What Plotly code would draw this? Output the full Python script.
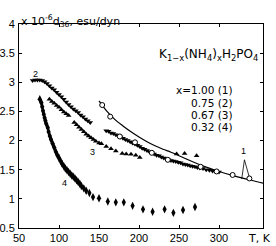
import plotly.graph_objects as go

# Series 1 (x=1.00): open circles
s1_T = [154, 164, 176, 195, 216, 236, 277, 297, 317, 338]
s1_d = [2.61, 2.41, 2.07, 1.97, 1.79, 1.67, 1.55, 1.47, 1.41, 1.35]

# Series 1 curve (solid line)
c1_T = [150, 160, 170, 180, 190, 200, 210, 220, 230, 240, 255, 270, 285, 300, 320, 340, 355]
c1_d = [2.68, 2.50, 2.36, 2.25, 2.15, 2.06, 1.98, 1.91, 1.85, 1.80, 1.71, 1.62, 1.54, 1.47, 1.39, 1.32, 1.27]

# Series 2 (x=0.75)
s2_T = [67, 70, 73, 76, 79, 82, 85, 88, 91, 94, 97, 100, 103, 106, 109, 112, 115, 118, 121, 124,
        127, 130, 133, 136, 139,
        159, 162, 165, 168, 171, 174, 177, 180, 183, 186, 189, 192, 195, 198, 201, 204, 207, 210,
        213, 216, 219, 222, 225, 228, 231, 234, 237, 240, 243, 246, 249, 252, 255, 258, 261, 264,
        267, 270, 273, 276, 280, 284, 288, 292, 296, 300]
s2_d = [3.03, 3.04, 3.04, 3.04, 3.03, 3.01, 2.98, 2.94, 2.90, 2.87, 2.83, 2.79, 2.75, 2.71, 2.66,
        2.62, 2.58, 2.54, 2.51, 2.48, 2.44, 2.41, 2.37, 2.34, 2.31,
        2.17, 2.16, 2.13, 2.12, 2.10, 2.08, 2.06, 2.04, 2.02, 2.00, 1.98, 1.96, 1.94, 1.92, 1.90,
        1.87, 1.85, 1.83, 1.81, 1.79, 1.77, 1.75, 1.74, 1.72, 1.70, 1.69, 1.67, 1.66, 1.65, 1.64,
        1.63, 1.62, 1.60, 1.59, 1.58, 1.57, 1.56, 1.55, 1.54, 1.53, 1.52, 1.50, 1.49, 1.48, 1.47, 1.46]

# Series 3 (x=0.67)
s3_T = [88, 91, 94, 97, 100, 103, 106, 109, 112, 119, 122, 125, 128, 131, 134, 137, 140, 143, 146,
        150, 153, 159, 165, 171, 179, 184, 190, 196, 201, 247, 257, 272]
s3_d = [2.71, 2.67, 2.64, 2.60, 2.57, 2.53, 2.49, 2.46, 2.43, 2.31, 2.27, 2.23, 2.19, 2.15, 2.11,
        2.08, 2.05, 2.02, 1.99, 1.96, 1.945, 1.90, 1.86, 1.82, 1.78, 1.77, 1.765, 1.75, 1.71,
        1.77, 1.78, 1.74]

# Series 4 (x=0.32)
s4_T = [76, 78, 79, 80, 81, 82, 83, 84, 86, 87, 88.5, 90, 92, 94, 96, 98, 100, 102, 104, 106, 108,
        110, 112, 114, 116, 118, 120, 122, 124, 126, 128, 131, 134, 138, 142.5, 150, 161, 171, 181,
        192, 205, 217, 232, 243, 255, 270]
s4_d = [2.71, 2.65, 2.58, 2.51, 2.45, 2.39, 2.34, 2.29, 2.22, 2.15, 2.08, 2.02, 1.95, 1.88, 1.81,
        1.75, 1.70, 1.65, 1.60, 1.56, 1.52, 1.49, 1.46, 1.43, 1.40, 1.38, 1.35, 1.32, 1.29, 1.26,
        1.22, 1.18, 1.14, 1.10, 1.03, 1.01, 0.955, 0.94, 0.94, 0.88, 0.82, 0.78, 0.82, 0.76, 0.81, 0.86]

# Leader line for label "1"
lead_T = [328.4, 331.8, 338]
lead_d = [1.34, 1.67, 1.365]

x_ticks = [50, 100, 150, 200, 250, 300]
y_ticks = [0.5, 1, 1.5, 2, 2.5, 3, 3.5, 4]
y_ticklabels = ["0.5", "1", "1.5", "2", "2.5", "3", "3.5", "4"]

legend_lines = ["x=1.00 (1)", "0.75 (2)", "0.67 (3)", "0.32 (4)"]
legend_y = [2.86, 2.65, 2.44, 2.23]
formula = "K<sub>1\u2212x</sub>(NH<sub>4</sub>)<sub>x</sub>H<sub>2</sub>PO<sub>4</sub>"

TICKFONT = "Liberation Sans, Arial, sans-serif"
TXTFONT = "DejaVu Sans, sans-serif"

fig = go.Figure()
fig.add_trace(go.Scatter(x=c1_T, y=c1_d, mode="lines", line=dict(color="black", width=1.2, shape="spline"),
                         hoverinfo="skip"))
fig.add_trace(go.Scatter(x=lead_T, y=lead_d, mode="lines", line=dict(color="black", width=0.8),
                         hoverinfo="skip"))
fig.add_trace(go.Scatter(x=s2_T, y=s2_d, mode="markers",
                         marker=dict(symbol="triangle-down", size=5, color="black")))
fig.add_trace(go.Scatter(x=s3_T, y=s3_d, mode="markers",
                         marker=dict(symbol="triangle-up", size=5, color="black")))
fig.add_trace(go.Scatter(x=s4_T, y=s4_d, mode="markers",
                         marker=dict(symbol="diamond-tall", size=6, color="black")))
fig.add_trace(go.Scatter(x=s1_T, y=s1_d, mode="markers",
                         marker=dict(symbol="circle", size=5, color="white",
                                     line=dict(color="black", width=1))))

axis_common = dict(showline=True, linecolor="black", linewidth=1, mirror="ticks",
                   ticks="inside", ticklen=3, tickcolor="black", showgrid=False, zeroline=False,
                   tickfont=dict(family=TICKFONT, size=11, color="black"), automargin=False)

fig.update_xaxes(range=[50, 355], tickvals=x_ticks, ticktext=[str(v) for v in x_ticks], **axis_common)
fig.update_yaxes(range=[0.5, 4], tickvals=y_ticks, ticktext=y_ticklabels, ticklabelstandoff=1, **axis_common)

annotations = [
    dict(xref="paper", yref="paper", x=0, y=1, xanchor="left", yanchor="bottom", yshift=-7,
         text="x 10<sup>-6</sup>d<sub>36</sub>, esu/dyn", showarrow=False,
         font=dict(family=TXTFONT, size=11, color="black")),
    dict(xref="paper", yref="paper", x=0.984, y=0, xanchor="center", yanchor="top", yshift=-2,
         text="T, K", showarrow=False, font=dict(family=TXTFONT, size=11, color="black")),
    dict(x=222, y=3.47, xref="x", yref="y", xanchor="left", yanchor="middle", text=formula,
         showarrow=False, font=dict(family=TXTFONT, size=12, color="black")),
    dict(x=71, y=3.15, xref="x", yref="y", text="2", showarrow=False,
         font=dict(family=TICKFONT, size=9, color="black")),
    dict(x=142, y=1.80, xref="x", yref="y", text="3", showarrow=False,
         font=dict(family=TICKFONT, size=9, color="black")),
    dict(x=107, y=1.27, xref="x", yref="y", text="4", showarrow=False,
         font=dict(family=TICKFONT, size=9, color="black")),
    dict(x=331, y=1.82, xref="x", yref="y", text="1", showarrow=False,
         font=dict(family=TICKFONT, size=9, color="black")),
]
for txt, yy in zip(legend_lines, legend_y):
    annotations.append(dict(x=320, y=yy, xref="x", yref="y", xanchor="right", yanchor="middle",
                            text=txt, showarrow=False, font=dict(family=TXTFONT, size=10.5, color="black")))

fig.update_layout(width=276, height=246, margin=dict(l=19, r=13, t=24, b=18),
                  paper_bgcolor="white", plot_bgcolor="white", showlegend=False,
                  annotations=annotations, font=dict(family=TICKFONT, color="black"))

fig.write_html("out.html", config={"displayModeBar": False},
               post_script="document.body.style.margin='0';document.body.style.overflow='hidden';")
